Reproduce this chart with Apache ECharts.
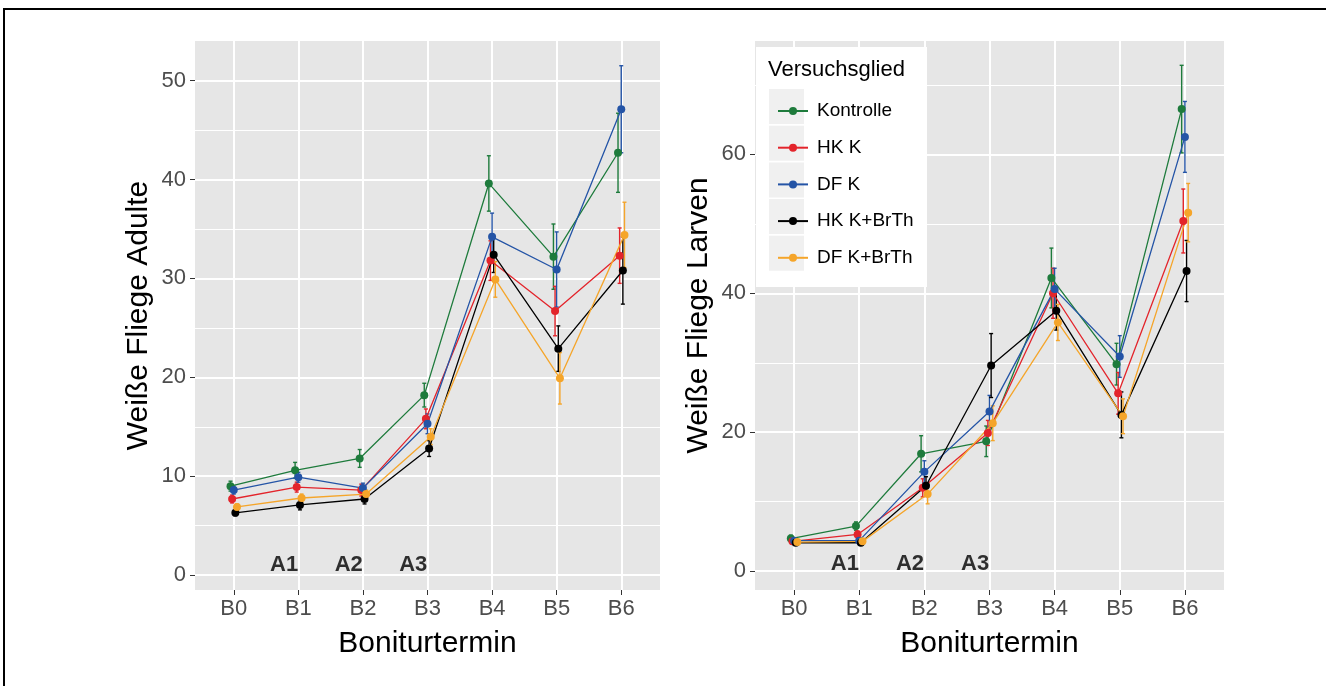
<!DOCTYPE html>
<html>
<head>
<meta charset="utf-8">
<script src="https://cdn.jsdelivr.net/npm/echarts@6/dist/echarts.min.js"></script>
<style>
html, body { margin: 0; padding: 0; background: #fff; overflow: hidden; }
#frame { position: absolute; left: 3px; top: 8px; width: 1400px; height: 760px; border-top: 2px solid #000; border-left: 2px solid #000; }
#chart { position: absolute; left: 0; top: 0; width: 1326px; height: 686px; }
</style>
</head>
<body>
<div id="frame"></div>
<div id="chart"></div>
<script>
// Boniturtermine und Versuchsglieder
const termine = ['B0', 'B1', 'B2', 'B3', 'B4', 'B5', 'B6']
const gruppen = ['Kontrolle', 'HK K', 'DF K', 'HK K+BrTh', 'DF K+BrTh']
const farben = ['#1E7B3C', '#E3242B', '#2454A6', '#000000', '#F5A52A']
const dodge = [-0.05, -0.025, 0, 0.025, 0.05]

// Weiße Fliege Adulte: Mittelwerte
const adulteKontrolle = [9.0, 10.6, 11.8, 18.2, 39.6, 32.2, 42.7]
const adulteHKK = [7.7, 8.9, 8.6, 15.8, 31.8, 26.7, 32.3]
const adulteDFK = [8.6, 9.9, 8.8, 15.3, 34.2, 30.9, 47.1]
const adulteHKKBrTh = [6.3, 7.1, 7.7, 12.8, 32.4, 22.9, 30.8]
const adulteDFKBrTh = [6.9, 7.8, 8.2, 14.0, 29.9, 19.9, 34.4]
// Weiße Fliege Adulte: Standardfehler
const adulteKontrolleSE = [0.5, 0.8, 0.9, 1.2, 2.8, 3.3, 4.0]
const adulteHKKSE = [0.4, 0.5, 0.6, 1.0, 2.0, 2.5, 2.8]
const adulteDFKSE = [0.4, 0.5, 0.5, 1.0, 2.4, 3.8, 4.4]
const adulteHKKBrThSE = [0.3, 0.5, 0.5, 0.8, 1.8, 2.3, 3.4]
const adulteDFKBrThSE = [0.3, 0.4, 0.4, 0.8, 1.8, 2.6, 3.3]

// Weiße Fliege Larven: Mittelwerte
const larvenKontrolle = [4.7, 6.5, 16.9, 18.7, 42.2, 29.8, 66.5]
const larvenHKK = [4.3, 5.3, 12.0, 19.9, 40.0, 25.6, 50.4]
const larvenDFK = [4.4, 4.4, 14.3, 23.0, 40.6, 30.9, 62.5]
const larvenHKKBrTh = [4.1, 4.1, 12.3, 29.6, 37.5, 22.5, 43.2]
const larvenDFKBrTh = [4.2, 4.3, 11.1, 21.3, 35.8, 22.3, 51.6]
// Weiße Fliege Larven: Standardfehler
const larvenKontrolleSE = [0.5, 0.6, 2.6, 2.2, 4.3, 3.0, 6.3]
const larvenHKKSE = [0.4, 0.5, 1.3, 1.8, 3.6, 3.0, 4.6]
const larvenDFKSE = [0.4, 0.4, 1.6, 2.3, 3.0, 3.0, 5.1]
const larvenHKKBrThSE = [0.3, 0.3, 1.3, 4.6, 2.8, 3.3, 4.4]
const larvenDFKBrThSE = [0.3, 0.3, 1.4, 2.5, 2.6, 2.5, 4.2]

// Anwendungen A1-A3
const anwendungen = ['A1', 'A2', 'A3']
const anwendungX = [0.78, 1.78, 2.78]
const anwendungY = [1, 1, 1]

// Achsen-Ticks
const xTicks = [0, 1, 2, 3, 4, 5, 6]
const adulteTicks = [0, 10, 20, 30, 40, 50]
const adulteMinor = [5, 15, 25, 35, 45]
const larvenTicks = [0, 20, 40, 60]
const larvenMinor = [10, 30, 50, 70]

const adulteMittel = [adulteKontrolle, adulteHKK, adulteDFK, adulteHKKBrTh, adulteDFKBrTh]
const adulteSE = [adulteKontrolleSE, adulteHKKSE, adulteDFKSE, adulteHKKBrThSE, adulteDFKBrThSE]
const larvenMittel = [larvenKontrolle, larvenHKK, larvenDFK, larvenHKKBrTh, larvenDFKBrTh]
const larvenSE = [larvenKontrolleSE, larvenHKKSE, larvenDFKSE, larvenHKKBrThSE, larvenDFKBrThSE]

const chart = echarts.init(document.getElementById('chart'))

const fehlerbalken = (params, api) => {
  const x = api.value(0)
  const oben = api.coord([x, api.value(2)])
  const unten = api.coord([x, api.value(1)])
  const cap = 2
  const style = { stroke: api.visual('color'), lineWidth: 1.4 }
  return {
    type: 'group',
    children: [
      { type: 'line', shape: { x1: oben[0], y1: oben[1], x2: unten[0], y2: unten[1] }, style },
      { type: 'line', shape: { x1: oben[0] - cap, y1: oben[1], x2: oben[0] + cap, y2: oben[1] }, style },
      { type: 'line', shape: { x1: unten[0] - cap, y1: unten[1], x2: unten[0] + cap, y2: unten[1] }, style }
    ]
  }
}

const panelSeries = (mittel, se, xIdx, yIdx) => {
  const out = []
  gruppen.forEach((g, k) => {
    out.push({
      name: g + ' SE',
      type: 'custom',
      xAxisIndex: xIdx,
      yAxisIndex: yIdx,
      renderItem: fehlerbalken,
      itemStyle: { color: farben[k] },
      encode: { x: 0, y: [1, 2] },
      data: mittel[k].map((v, i) => [i + dodge[k], v - se[k][i], v + se[k][i]]),
      z: 2,
      silent: true
    })
    out.push({
      name: g,
      type: 'line',
      xAxisIndex: xIdx,
      yAxisIndex: yIdx,
      data: mittel[k].map((v, i) => [i + dodge[k], v]),
      symbol: 'circle',
      symbolSize: 8,
      lineStyle: { color: farben[k], width: 1.3 },
      itemStyle: { color: farben[k] },
      z: 3
    })
  })
  out.push({
    type: 'scatter',
    xAxisIndex: xIdx,
    yAxisIndex: yIdx,
    symbolSize: 0,
    data: anwendungen.map((a, i) => ({ name: a, value: [anwendungX[i], anwendungY[i]] })),
    label: {
      show: true,
      position: 'inside',
      formatter: p => p.name,
      fontSize: 22,
      fontWeight: 'bold',
      color: '#000'
    },
    silent: true,
    z: 4
  })
  return out
}

const xAchse = (gridIndex) => ({
  type: 'value',
  gridIndex,
  min: -0.6,
  max: 6.6,
  name: 'Boniturtermin',
  nameLocation: 'middle',
  nameGap: 39,
  nameTextStyle: { fontSize: 30, color: '#000' },
  axisLine: { show: false, onZero: false },
  axisTick: { show: true, length: 5, customValues: xTicks, lineStyle: { color: '#333' } },
  axisLabel: { customValues: xTicks, formatter: v => termine[Math.round(v)], fontSize: 22, color: '#4D4D4D', margin: 8 },
  splitLine: { show: true, lineStyle: { color: '#fff', width: 2 } }
})

const yAchse = (gridIndex, min, max, ticks, name) => ({
  type: 'value',
  gridIndex,
  min,
  max,
  position: 'left',
  name,
  nameLocation: 'middle',
  nameGap: 41,
  nameTextStyle: { fontSize: 30, color: '#000' },
  axisLine: { show: false, onZero: false },
  axisTick: { show: true, length: 5, customValues: ticks, lineStyle: { color: '#333' } },
  axisLabel: { customValues: ticks, fontSize: 22, color: '#4D4D4D', margin: 9 },
  splitLine: { show: true, lineStyle: { color: '#fff', width: 2 } }
})

const yMinor = (gridIndex, min, max, ticks) => ({
  type: 'value',
  gridIndex,
  min,
  max,
  position: 'left',
  axisLine: { show: false, onZero: false },
  axisTick: { show: false, customValues: ticks },
  axisLabel: { show: false, customValues: ticks },
  splitLine: { show: true, lineStyle: { color: '#fff', width: 1 } }
})

const keyTop = 89
const keyStep = 36.7

const options = {
  animation: false,
  textStyle: { fontFamily: 'Liberation Sans, Arial, sans-serif' },
  title: {
    text: 'Versuchsglied',
    left: 763,
    top: 54,
    textStyle: { fontSize: 22, fontWeight: 'normal', color: '#000' },
    z: 10
  },
  legend: {
    data: gruppen,
    orient: 'vertical',
    left: 772,
    top: keyTop + 7,
    itemWidth: 30,
    itemHeight: 10,
    itemGap: 16.7,
    selectedMode: false,
    textStyle: { fontSize: 19, color: '#000', lineHeight: 20, padding: [0, 0, 0, 4] },
    z: 10
  },
  graphic: [
    { type: 'rect', z: 8, shape: { x: 756, y: 47, width: 171, height: 240 }, style: { fill: '#fff' } },
    ...gruppen.map((g, i) => ({
      type: 'rect', z: 9,
      shape: { x: 769, y: keyTop + i * keyStep, width: 35, height: 35 },
      style: { fill: '#F0F0F0' }
    }))
  ],
  grid: [
    { left: 195, top: 41, width: 465, height: 549, show: true, backgroundColor: '#E6E6E6', borderWidth: 0 },
    { left: 755, top: 41, width: 469, height: 549, show: true, backgroundColor: '#E6E6E6', borderWidth: 0 }
  ],
  xAxis: [xAchse(0), xAchse(1)],
  yAxis: [
    yAchse(0, -1.5, 54, adulteTicks, 'Weiße Fliege Adulte'),
    yMinor(0, -1.5, 54, adulteMinor),
    yAchse(1, -2.7, 76.3, larvenTicks, 'Weiße Fliege Larven'),
    yMinor(1, -2.7, 76.3, larvenMinor)
  ],
  series: [
    ...panelSeries(adulteMittel, adulteSE, 0, 0),
    ...panelSeries(larvenMittel, larvenSE, 1, 2)
  ]
}

chart.setOption(options)
</script>
</body>
</html>
